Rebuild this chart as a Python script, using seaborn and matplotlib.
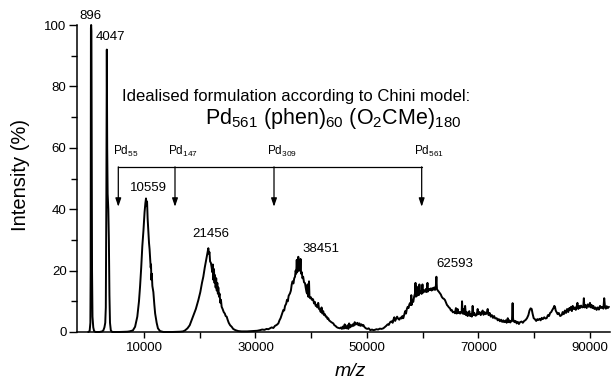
import matplotlib
matplotlib.use("Agg")
import matplotlib.pyplot as plt
from matplotlib import font_manager as fm
import numpy as np
import pandas as pd
import seaborn as sns

# ---------------- data ----------------
# spectrum, split into regions: m/z and intensity (%)
mz_a = [0, 250, 380, 430, 480, 520, 570, 620, 680, 760, 900, 1050, 1300, 2000, 2500,
        2700, 2900, 3050, 3150, 3250, 3330, 3400, 3480, 3600, 3700, 3800, 3900, 4050,
        4300, 5500, 7000]
int_a = [0, 0.3, 3, 20, 99, 100, 98, 60, 20, 5, 1.5, 0.3, 0, 0, 0.2,
         0.5, 1.5, 3, 8, 45, 92, 60, 45, 40, 30, 12, 3, 0.5,
         0, 0, 0.1]

mz_b = [7400, 8000, 8400, 8800, 9100, 9300, 9500, 9700, 9900, 10100,
        10250, 10360, 10450, 10550, 10650, 10780, 10900, 11000, 11100, 11200,
        11260, 11320, 11400, 11500, 11680, 11850, 12000, 12270, 12500, 12870,
        13500, 15000, 16500]
int_b = [0.2, 0.5, 1.7, 5, 10, 15, 21, 28, 33, 39,
         42, 43.5, 41, 42.5, 37, 33, 29, 27, 24, 21,
         22, 17, 19, 15, 13, 9, 6, 3, 1.2, 0.3,
         0, 0, 0.1]

mz_c = [17000, 17350, 17800, 18200, 18550, 18900, 19300, 19750, 20100, 20400,
        20640, 20900, 21100, 21250, 21400, 21540, 21650, 21750, 21850, 22000,
        22140, 22250, 22350, 22450, 22550, 22650, 22740, 22850, 22950, 23050,
        23150, 23250, 23330, 23450, 23550, 23700, 23800, 23930, 24100, 24300,
        24500, 24650, 24830, 25000, 25200, 25450, 25730, 26000, 26400, 26920,
        27500, 28500, 29500, 30300]
int_c = [0.2, 0.5, 1.2, 2.2, 3.9, 5.5, 7.5, 10.4, 13, 16,
         18, 21, 23, 24.5, 26, 27.3, 25.5, 26, 23, 22.5,
         21, 19.5, 22, 17, 20.5, 16, 18.5, 14.5, 17.5, 13.5,
         16, 12.5, 14.5, 11.5, 12.5, 9.5, 10.5, 8.2, 7.5, 6.5,
         6, 5.2, 5, 4, 3, 2.2, 1.7, 1, 0.6, 0.3,
         0.2, 0.2, 0.3, 0.4]

mz_d = [30810, 31200, 31600, 32000, 32300, 32600, 32900, 33200, 33500, 33800,
        34100, 34300, 34500, 34700, 34850, 35000, 35150, 35300, 35500, 35650,
        35800, 35950, 36190, 36350, 36500, 36650, 36800, 36950, 37090, 37200,
        37300, 37400, 37480, 37560, 37680, 37760, 37850, 37980, 38080, 38180,
        38300, 38420, 38550, 38700, 38880, 39000, 39150, 39250, 39350, 39420,
        39470, 39600, 39680, 39800, 39950, 40100, 40250, 40370, 40500, 40650,
        40800, 40950, 41100, 41250, 41400, 41570, 41700, 41850, 42000, 42150,
        42300, 42450, 42600, 42770, 42900, 43050, 43200, 43400, 43600, 43800,
        43960, 44150, 44350, 44550, 44750, 44950, 45160, 45350, 45500, 45700,
        45850, 46000, 46150, 46360, 46500, 46650, 46800, 46950, 47100, 47250,
        47450, 47600, 47800, 47950, 48150, 48300, 48450, 48650, 48800, 49000,
        49150, 49340, 49550, 49800, 50050, 50300, 50600, 50900, 51140, 51400,
        51700, 52000, 52300, 52600, 52930, 53200, 53450, 53700, 53900, 54150,
        54400, 54600, 54720, 54900, 55050, 55200, 55400, 55600, 55800, 56000,
        56200, 56350, 56510, 56700, 56850, 57000]
int_d = [0.6, 0.8, 0.7, 1.0, 0.9, 1.2, 1.5, 1.3, 2.0, 2.3,
         2.8, 3.8, 4.5, 5.6, 6.5, 7.2, 7.0, 8.5, 9.2, 10.5,
         10, 11.8, 12.6, 13.5, 15.5, 16.5, 15.8, 17.5, 18, 20,
         19, 23.5, 19.5, 21, 24.5, 20, 21.5, 20, 23.8, 19,
         19.5, 17.5, 18, 16.2, 15.9, 14.5, 13, 12.5, 15.5, 12,
         11.5, 16.5, 11.5, 11, 11.3, 10.5, 10.8, 10.4, 9.3, 9.8,
         8.5, 8.8, 8, 9.5, 7.5, 7.2, 6.5, 8, 6, 6.8,
         5.5, 5.8, 5, 5, 4.3, 4.5, 3.8, 3.5, 3.2, 3,
         2.8, 2.2, 2, 1.6, 1.4, 1.3, 1.2, 1.5, 1.0, 1.8,
         1.1, 2.5, 1.3, 1.2, 2.2, 1.0, 2.8, 1.5, 2.2, 1.8,
         2.5, 2.0, 3.2, 2.4, 2.8, 3.0, 2.2, 2.8, 2.0, 2.5,
         2.0, 2.3, 1.6, 1.2, 1.0, 1.2, 0.6, 0.8, 0.6, 0.7,
         0.9, 0.8, 1.1, 1.0, 1.2, 1.6, 2.0, 2.5, 2.3, 3.2,
         3.5, 3.0, 3.9, 4.8, 3.6, 4.2, 5.0, 4.3, 4.0, 4.7,
         4.4, 5.2, 4.5, 5.8, 6.8, 6.0]

mz_e = [57150, 57300, 57450, 57600, 57710, 57850, 57950, 58010, 58150, 58300,
        58450, 58610, 58700, 58780, 58910, 59000, 59150, 59300, 59400, 59510,
        59650, 59800, 59950, 60050, 60200, 60400, 60550, 60700, 60850, 60950,
        61100, 61300, 61450, 61600, 61750, 61900, 62050, 62200, 62350, 62450,
        62550, 62700, 62850, 63090, 63250, 63400, 63600, 63800, 63990, 64150,
        64350, 64500, 64700, 64890, 65050, 65200, 65400, 65600, 65790, 65950]
int_e = [7.5, 8.2, 7.8, 9.0, 9.4, 8.8, 12, 8.8, 10.5, 9.8,
         11.5, 12.6, 16, 11.5, 14.8, 11.8, 13, 12, 15.5, 12.6,
         13.2, 12.4, 15.5, 12.8, 13.6, 13.1, 14, 13, 16, 13.2,
         14, 13.7, 14.2, 13.5, 14.3, 13.8, 14.5, 13.7, 15, 18,
         14, 13.5, 13.2, 12.6, 12.2, 11.5, 11, 10.8, 10.4, 9.7,
         8.8, 8.5, 8, 7.7, 7, 7.2, 6.4, 6.6, 6.1, 7.8]

mz_f = [66100, 66250, 66400, 66550, 66700, 66850, 66990, 67050, 67150, 67300,
        67450, 67600, 67750, 67900, 68050, 68180, 68350, 68500, 68650, 68800,
        68950, 69100, 69250, 69450, 69670, 69850, 70000, 70200, 70400, 70550,
        70750, 70900, 71100, 71300, 71470, 71650, 71800, 72000, 72200, 72400,
        72600, 72800, 73000, 73260, 73450, 73650, 73850, 74050, 74250, 74450,
        74600, 74750, 74900, 75050, 75250, 75400, 75550, 75700, 75850, 76000,
        76120, 76200, 76250, 76450, 76650, 76850, 77050, 77250, 77450, 77740,
        77950, 78200, 78450, 78700, 78950, 79150, 79350, 79540, 79700, 79900,
        80100, 80350, 80550, 80740, 80950, 81150, 81350, 81550, 81800, 82000,
        82230, 82450, 82650, 82850, 83050, 83250, 83450, 83600, 83720, 83850,
        84000, 84200, 84400, 84650, 84920, 85100, 85300, 85500, 85700, 85900,
        86100, 86300, 86410, 86600, 86750, 86900, 87100, 87300, 87450, 87600,
        87750, 87900, 88050, 88200, 88400, 88600, 88800, 88900, 89000, 89200,
        89400, 89600, 89800, 90000, 90150, 90300, 90450, 90600, 90800, 91000,
        91190, 91400, 91600, 91800, 92000, 92200, 92400, 92550, 92690, 92850,
        93000, 93200, 93400]
int_f = [6, 7.5, 6.2, 6.5, 6, 6.5, 6.6, 10, 6, 7.5,
         5.8, 8.5, 5.5, 6.5, 5.2, 5.5, 6.8, 5.2, 5.8, 5,
         8.5, 5.5, 6.2, 5.3, 5.5, 7.5, 5.8, 6.5, 5.5, 6.2,
         7, 5.6, 6.5, 5.8, 6.1, 7.5, 5.5, 6.2, 5.0, 5.5,
         4.6, 5.2, 4.4, 4.5, 3.8, 4.2, 3.5, 4.0, 3.3, 3.8,
         3.2, 3.4, 3.8, 3.0, 4.5, 3.2, 3.8, 3.1, 3.6, 3.5,
         9.4, 4.5, 3.9, 3.2, 3.6, 2.8, 3.3, 2.6, 3.2, 3.4,
         3.0, 3.6, 3.9, 4.5, 5.5, 7, 7.7, 7.5, 6, 4.5,
         4.2, 3.6, 4.2, 3.9, 4.3, 3.8, 4.6, 4.2, 4.8, 4.4,
         4.5, 5.5, 5.2, 6.2, 6.5, 7.2, 7.8, 8.5, 8.2, 7,
         6.5, 5.8, 6.2, 5.2, 5.5, 6.5, 5.8, 7, 6.2, 7.5,
         6.5, 7.8, 7.2, 8.2, 6.8, 8.5, 7.5, 8.0, 7.2, 8.2,
         9.5, 7.5, 8.5, 7.8, 8.6, 8.0, 8.2, 11, 8, 8.8,
         7.8, 9.0, 8.2, 9.5, 8.0, 8.8, 7.8, 8.5, 7.5, 8.0,
         7.2, 8.0, 7.3, 8.5, 7.8, 8.2, 7.6, 11, 8.2, 7.6,
         8.4, 7.8, 8.2]

# labelled peaks
peak_labels = ["896", "4047", "10559", "21456", "38451", "62593"]
# cluster sizes of the Chini model and their expected m/z (arrow positions)
pd_sizes = ["55", "147", "309", "561"]
pd_mz = [5390, 15560, 33320, 59810]

x_major = [10000, 30000, 50000, 70000, 90000]
x_minor = [20000, 40000, 60000, 80000]
y_major = [0, 20, 40, 60, 80, 100]
y_minor = [10, 30, 50, 70, 90]

# ---------------- layout constants ----------------
peak_label_pos = [(314, 101), (3960, 94), (10780, 45), (21900, 30), (41750, 25.1), (65730, 20.2)]
bracket_level = 53.8
arrow_tip = 40.8

# ---------------- style ----------------
sns.set_style("ticks")
plt.rcParams["font.family"] = ["Liberation Sans", "DejaVu Sans"]
plt.rcParams["mathtext.fontset"] = "custom"
plt.rcParams["mathtext.rm"] = "Liberation Sans"
plt.rcParams["mathtext.it"] = "Liberation Sans:italic"
plt.rcParams["mathtext.default"] = "regular"
for key in ("text.color", "axes.labelcolor", "xtick.color", "ytick.color", "axes.edgecolor"):
    plt.rcParams[key] = "black"

names = {f.name for f in fm.fontManager.ttflist}
if "Liberation Sans Narrow" in names:
    title_family, t1_size, t2_size = ["Liberation Sans Narrow", "Liberation Sans"], 14.5, 18
else:
    title_family, t1_size, t2_size = ["Liberation Sans", "DejaVu Sans"], 12, 15.5

df = pd.DataFrame({
    "mz": mz_a + mz_b + mz_c + mz_d + mz_e + mz_f,
    "intensity": int_a + int_b + int_c + int_d + int_e + int_f,
})

fig = plt.figure(figsize=(6.14, 3.80), dpi=100)
ax = fig.add_axes([77 / 614, 1 - 332 / 380, (610 - 77) / 614, (332 - 25) / 380])

sns.lineplot(data=df, x="mz", y="intensity", ax=ax, color="black", lw=1.4,
             estimator=None, sort=False)
for ln in ax.get_lines():
    ln.set_clip_on(False)

ax.set_xlim(-2018, 93590)
ax.set_ylim(0, 100)
sns.despine(ax=ax)
for s in ("left", "bottom"):
    ax.spines[s].set_linewidth(1.1)
    ax.spines[s].set_color("black")

ax.set_xticks(x_major)
ax.set_xticks(x_minor, minor=True)
ax.set_xticklabels([str(v) for v in x_major])
ax.set_yticks(y_major)
ax.set_yticks(y_minor, minor=True)
ax.set_yticklabels([str(v) for v in y_major])
ax.tick_params(axis="x", which="both", length=4, width=1, direction="out",
               labelsize=9.5, pad=3, color="black", labelcolor="black")
ax.tick_params(axis="y", which="major", length=5.5, width=1, direction="out",
               labelsize=9.5, pad=2, color="black", labelcolor="black")
ax.tick_params(axis="y", which="minor", length=4, width=1, direction="out", color="black")

ax.set_ylabel("Intensity (%)", fontsize=14.5, color="black")
ax.yaxis.set_label_coords(-0.088, 0.511)
ax.set_xlabel("m/z", fontsize=14, fontstyle="italic", color="black")
ax.xaxis.set_label_coords(0.512, -0.10)

# peak labels
for lbl, (px, py) in zip(peak_labels, peak_label_pos):
    ax.text(px, py, lbl, ha="center", va="bottom", fontsize=9.5, color="black", clip_on=False)

# Chini model bracket and arrows
ax.plot([pd_mz[0], pd_mz[-1]], [bracket_level, bracket_level], color="black", lw=0.9)
for size, m in zip(pd_sizes, pd_mz):
    ax.annotate("", xy=(m, arrow_tip), xytext=(m, bracket_level),
                arrowprops=dict(arrowstyle="-|>,head_length=0.5,head_width=0.17",
                                color="black", lw=0.9, shrinkA=0, shrinkB=0))
    ax.annotate(f"Pd$_{{{size}}}$", xy=(m, bracket_level), xytext=(5.5, 8.4),
                textcoords="offset points", ha="center", va="baseline",
                fontsize=8.5, color="black")

fig.text(121.7 / 614, 1 - 101 / 380, "Idealised formulation according to Chini model:",
         ha="left", va="baseline", fontsize=t1_size, family=title_family, color="black")
fig.text(205 / 614, 1 - 124 / 380, "Pd$_{561}$ (phen)$_{60}$ (O$_{2}$CMe)$_{180}$",
         ha="left", va="baseline", fontsize=t2_size, family=title_family, color="black")

fig.savefig("out.png", dpi=100, facecolor="white")
